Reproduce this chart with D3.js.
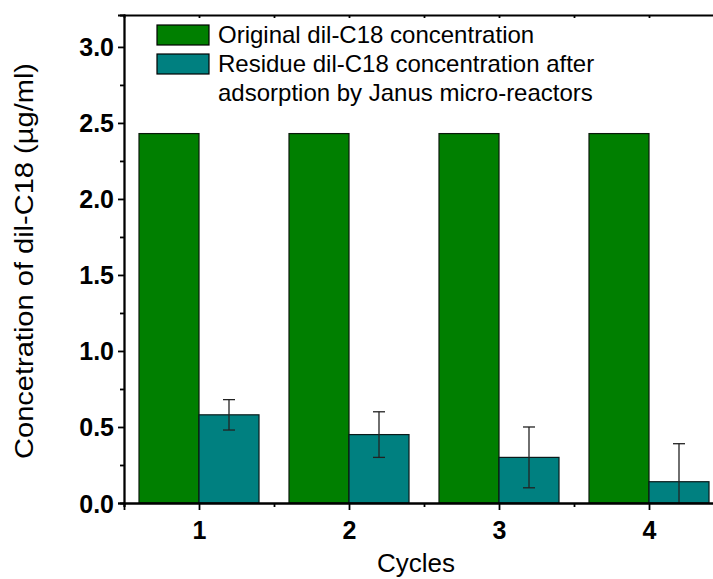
<!DOCTYPE html>
<html>
<head>
	<meta charset="utf-8">
	<script src="https://d3js.org/d3.v7.min.js"></script>
	<title>dil-C18 cycles</title>
	<style>
		body { margin: 0; background: #fff; }
		text { font-family: Arial, "Liberation Sans", sans-serif; }
	</style>
</head>
<body>
	<div id="chart"></div>

	<script type="text/javascript">

		// data
		var cycles = [1, 2, 3, 4];
		var original = [2.43, 2.43, 2.43, 2.43];
		var residue = [0.58, 0.45, 0.30, 0.14];
		var residueErr = [0.10, 0.15, 0.20, 0.25];
		var yTicks = [0, 0.5, 1.0, 1.5, 2.0, 2.5, 3.0];
		var yMinorTicks = [0.25, 0.75, 1.25, 1.75, 2.25, 2.75];
		var seriesNames = ["Original dil-C18 concentration",
			"Residue dil-C18 concentration after",
			"adsorption by Janus micro-reactors"];

		var svgwidth = 713;
		var svgheight = 579;
		// note: "top" is reserved on window, so use other names
		var plotLeft = 124, plotTop = 15, plotBottom = 503;

		var svg = d3.select("#chart").append("svg")
			.attr("width", svgwidth)
			.attr("height", svgheight);

		var xScale = d3.scaleLinear()
			.domain([0.5, 4.5])
			.range([plotLeft, plotLeft + 600]);

		var yScale = d3.scaleLinear()
			.domain([0, 3.21])
			.range([plotBottom, plotTop]);

		var barW = 0.4;

		svg.append("clipPath").attr("id", "plotclip")
			.append("rect")
			.attr("x", plotLeft).attr("y", plotTop)
			.attr("width", svgwidth - plotLeft).attr("height", plotBottom - plotTop);

		var plot = svg.append("g").attr("clip-path", "url(#plotclip)");

		// green bars
		plot.selectAll(".orig")
			.data(original).enter().append("rect")
			.attr("class", "orig")
			.attr("x", function(d, i){ return xScale(cycles[i] - barW); })
			.attr("y", function(d){ return yScale(d); })
			.attr("width", xScale(barW) - xScale(0))
			.attr("height", function(d){ return yScale(0) - yScale(d); })
			.attr("fill", "#007f00")
			.attr("stroke", "#0a1a0a")
			.attr("stroke-width", 1.2);

		// teal bars
		plot.selectAll(".res")
			.data(residue).enter().append("rect")
			.attr("class", "res")
			.attr("x", function(d, i){ return xScale(cycles[i]); })
			.attr("y", function(d){ return yScale(d); })
			.attr("width", xScale(barW) - xScale(0))
			.attr("height", function(d){ return yScale(0) - yScale(d); })
			.attr("fill", "#008080")
			.attr("stroke", "#0a1a1a")
			.attr("stroke-width", 1.2);

		// error bars
		var errs = plot.selectAll(".err")
			.data(residue).enter().append("g")
			.attr("class", "err")
			.attr("stroke", "#222")
			.attr("stroke-width", 1.3);

		errs.append("line")
			.attr("x1", function(d, i){ return xScale(cycles[i] + barW / 2); })
			.attr("x2", function(d, i){ return xScale(cycles[i] + barW / 2); })
			.attr("y1", function(d, i){ return yScale(d + residueErr[i]); })
			.attr("y2", function(d, i){ return yScale(d - residueErr[i]); });

		errs.append("line")
			.attr("x1", function(d, i){ return xScale(cycles[i] + barW / 2) - 6; })
			.attr("x2", function(d, i){ return xScale(cycles[i] + barW / 2) + 6; })
			.attr("y1", function(d, i){ return yScale(d + residueErr[i]); })
			.attr("y2", function(d, i){ return yScale(d + residueErr[i]); });

		errs.append("line")
			.attr("x1", function(d, i){ return xScale(cycles[i] + barW / 2) - 6; })
			.attr("x2", function(d, i){ return xScale(cycles[i] + barW / 2) + 6; })
			.attr("y1", function(d, i){ return yScale(d - residueErr[i]); })
			.attr("y2", function(d, i){ return yScale(d - residueErr[i]); });

		// y axis
		var yAxis = d3.axisLeft(yScale)
			.tickValues(yTicks)
			.tickFormat(d3.format(".1f"))
			.tickSizeOuter(0)
			.tickSize(6)
			.tickPadding(4);

		var yMinor = d3.axisLeft(yScale)
			.tickValues(yMinorTicks)
			.tickFormat("")
			.tickSizeOuter(0)
			.tickSize(4);

		svg.append("g").attr("transform", "translate(" + plotLeft + ",0)").call(yMinor);
		var gy = svg.append("g").attr("transform", "translate(" + plotLeft + ",0)").call(yAxis);
		gy.selectAll("text")
			.attr("font-size", 25)
			.attr("font-weight", "bold")
			.attr("dy", "0.36em")
			.attr("fill", "#000");

		// x axis
		var xAxis = d3.axisBottom(xScale)
			.tickValues(cycles)
			.tickFormat(d3.format("d"))
			.tickSizeOuter(0)
			.tickSize(7)
			.tickPadding(11);

		var xMinor = d3.axisBottom(xScale)
			.tickValues([0.5, 1.5, 2.5, 3.5])
			.tickFormat("")
			.tickSizeOuter(0)
			.tickSize(4);

		svg.append("g").attr("transform", "translate(0," + plotBottom + ")").call(xMinor);
		var gx = svg.append("g").attr("transform", "translate(0," + plotBottom + ")").call(xAxis);
		gx.selectAll("text")
			.attr("font-size", 25)
			.attr("font-weight", "bold")
			.attr("fill", "#000");

		// top axis with small inward ticks
		var xTop = d3.axisTop(xScale)
			.tickValues([1, 1.5, 2, 2.5, 3, 3.5, 4])
			.tickFormat("")
			.tickSizeOuter(0)
			.tickSize(-3);
		svg.append("g").attr("transform", "translate(0," + plotTop + ")").call(xTop);

		svg.selectAll(".domain, .tick line")
			.attr("stroke", "#000")
			.attr("stroke-width", 1.8);

		// axis titles
		svg.append("text")
			.attr("x", xScale(2.5) - 8)
			.attr("y", 572)
			.attr("text-anchor", "middle")
			.attr("font-size", 26)
			.text("Cycles");

		svg.append("text")
			.attr("transform", "translate(33," + ((plotBottom + plotTop) / 2 + 2) + ") rotate(-90)")
			.attr("text-anchor", "middle")
			.attr("font-size", 26)
			.attr("textLength", 396)
			.attr("lengthAdjust", "spacingAndGlyphs")
			.text("Concetration of dil-C18 (\u00b5g/ml)");

		// legend
		var legend = svg.append("g");
		var swatches = [{c: "#007f00", y: 25}, {c: "#008080", y: 54}];
		legend.selectAll("rect")
			.data(swatches).enter().append("rect")
			.attr("x", 157)
			.attr("y", function(d){ return d.y; })
			.attr("width", 52)
			.attr("height", 20)
			.attr("fill", function(d){ return d.c; })
			.attr("stroke", "#000")
			.attr("stroke-width", 1.2);

		legend.selectAll("text")
			.data(seriesNames).enter().append("text")
			.attr("x", 218)
			.attr("y", function(d, i){ return 43 + i * 29; })
			.attr("font-size", 24)
			.text(function(d){ return d; });

	</script>
</body>
</html>
